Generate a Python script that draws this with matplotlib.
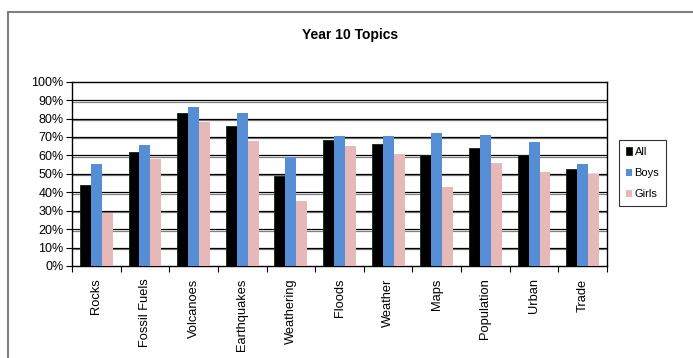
import matplotlib
matplotlib.use('Agg')
import matplotlib.pyplot as plt
import matplotlib.patheffects as pe
from matplotlib.lines import Line2D
import numpy as np

plt.rcParams['font.family'] = ['Liberation Sans', 'DejaVu Sans']

# topic survey results (% of pupils)
topics = ['Rocks', 'Fossil Fuels', 'Volcanoes', 'Earthquakes', 'Weathering',
          'Floods', 'Weather', 'Maps', 'Population', 'Urban', 'Trade']
all_pupils = [44, 62, 83, 76, 49, 68.5, 66.3, 60, 64, 60, 52.5]
boys = [55.4, 65.8, 86, 83, 59, 70.7, 70.7, 72.3, 71.2, 67.4, 55.4]
girls = [29, 58, 78.3, 68, 35, 65.2, 61, 43, 56, 51, 50]

fig = plt.figure(figsize=(6.93, 3.58), dpi=100)
ax = fig.add_axes([0.1039, 0.257, 0.772, 0.5148])

x = np.arange(len(topics))
w = 0.225
ax.bar(x - w, all_pupils, w, color='black', edgecolor='#0a2a0a', linewidth=0.6, label='All', zorder=3)
ax.bar(x, boys, w, color='#558ed5', label='Boys', zorder=3)
ax.bar(x + w, girls, w, color='#e6b9b8', label='Girls', zorder=3)

# gridlines with a grey shadow underneath
for v in range(10, 100, 10):
    ax.axhline(v, color='black', lw=0.9, zorder=1,
               path_effects=[pe.SimpleLineShadow(offset=(0, -1), shadow_color='#808080', alpha=1), pe.Normal()])

ax.set_xlim(-0.5, len(topics) - 0.5)
ax.set_ylim(0, 100)
ax.set_yticks(range(0, 101, 10))
ax.set_yticklabels([f'{v}%' for v in range(0, 101, 10)], fontsize=9)
ax.tick_params(axis='y', direction='out', length=4, width=0.8, pad=2)

ax.set_xticks(x)
ax.set_xticklabels(topics, rotation=90, fontsize=9.3)
ax.set_xticks(np.arange(-0.5, len(topics), 1), minor=True)
ax.tick_params(axis='x', which='major', length=0, pad=9)
ax.tick_params(axis='x', which='minor', direction='out', length=4, width=0.8)

for s in ax.spines.values():
    s.set_color('black')
    s.set_linewidth(1)

fig.text(0.505, 0.902, 'Year 10 Topics', ha='center', va='center', fontsize=10, fontweight='bold')

leg = ax.legend(loc='center left', bbox_to_anchor=(619 / 693, 1 - 173 / 358),
                bbox_transform=fig.transFigure, fontsize=8, frameon=True, fancybox=False,
                edgecolor='black', handlelength=0.6, handleheight=0.6, handletextpad=0.2,
                labelspacing=1.0, borderpad=0.6, borderaxespad=0)
leg.get_frame().set_linewidth(0.8)

# chart area border (top and left)
fig.add_artist(Line2D([8 / 693, 1], [1 - 12 / 358, 1 - 12 / 358], transform=fig.transFigure,
                      color='#7f7f7f', lw=1.5))
fig.add_artist(Line2D([8 / 693, 8 / 693], [0, 1 - 12 / 358], transform=fig.transFigure,
                      color='#7f7f7f', lw=1.5))

fig.savefig('out.png', dpi=100)
